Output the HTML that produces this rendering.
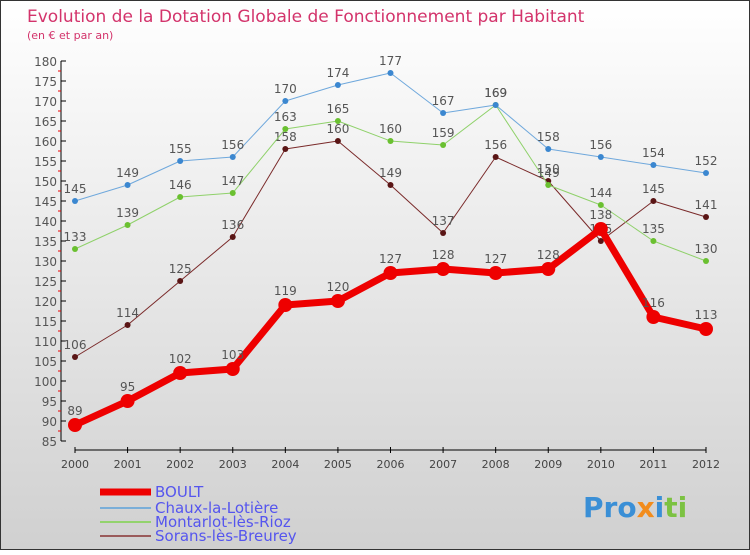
<!DOCTYPE html>
<html><head><meta charset="utf-8"><style>
body{margin:0}
svg text{font-family:"DejaVu Sans","Liberation Sans",sans-serif}
</style></head><body>
<svg width="750" height="550" xmlns="http://www.w3.org/2000/svg">
<defs><linearGradient id="bg" x1="0" y1="0" x2="0" y2="1"><stop offset="0" stop-color="#ffffff"/><stop offset="1" stop-color="#d0d0d0"/></linearGradient></defs>
<rect x="0.5" y="0.5" width="749" height="549" fill="url(#bg)" stroke="#333"/>
<text x="27" y="22" font-size="17" fill="#d3336b">Evolution de la Dotation Globale de Fonctionnement par Habitant</text>
<text x="27" y="39" font-size="11" fill="#d3336b">(en € et par an)</text>
<g id="axes"></g><g id="series"></g><g id="legend"></g>
<text x="583" y="517" font-size="28" font-weight="bold" fill="#3a8fd6">Pro<tspan fill="#f28c1c">x</tspan><tspan fill="#3a8fd6">i</tspan><tspan fill="#7cc242">ti</tspan></text>
</svg>
<script>
const years=[2000,2001,2002,2003,2004,2005,2006,2007,2008,2009,2010,2011,2012];
const boult=[89,95,102,103,119,120,127,128,127,128,138,116,113];
const chaux=[145,149,155,156,170,174,177,167,169,158,156,154,152];
const montarlot=[133,139,146,147,163,165,160,159,169,149,144,135,130];
const sorans=[106,114,125,136,158,160,149,137,156,150,135,145,141];
const yTicks=[85,90,95,100,105,110,115,120,125,130,135,140,145,150,155,160,165,170,175,180];
const NS="http://www.w3.org/2000/svg";
const X=i=>75+i*(706-75)/(years.length-1);
const Y=v=>61+(180-v)*4;
function mk(t,a,p){const e=document.createElementNS(NS,t);for(const k in a)e.setAttribute(k,a[k]);p.appendChild(e);return e;}
const ax=document.getElementById('axes');
mk('line',{x1:61,y1:61,x2:61,y2:441,stroke:'#000'},ax);
yTicks.forEach(v=>{
 mk('line',{x1:61,y1:Y(v),x2:66,y2:Y(v),stroke:'#000'},ax);
 if(v<180)mk('line',{x1:58,y1:Y(v+2.5),x2:61,y2:Y(v+2.5),stroke:'#e00'},ax);
 const t=mk('text',{x:57,y:Y(v)+5,'text-anchor':'end','font-size':12,fill:'#555'},ax);t.textContent=v;
 
 
});
mk('line',{x1:75,y1:450,x2:706,y2:450,stroke:'#000'},ax);
years.forEach((yr,i)=>{
 mk('line',{x1:X(i),y1:447,x2:X(i),y2:453,stroke:'#000'},ax);
 const t=mk('text',{x:X(i),y:468,'text-anchor':'middle','font-size':11,fill:'#444'},ax);t.textContent=yr;
 
 
});
const sg=document.getElementById('series');
const defs=[
 {n:'sorans',d:sorans,c:'#7a2a2a',dot:'#5a1515',w:1,r:3},
 {n:'montarlot',d:montarlot,c:'#8fd16a',dot:'#6ac030',w:1,r:3},
 {n:'chaux',d:chaux,c:'#6fa8dc',dot:'#3b87d0',w:1,r:3},
 {n:'boult',d:boult,c:'#ee0000',dot:'#ee0000',w:7,r:7}];
defs.forEach(s=>{
 const g=mk('g',{},sg);
 
 
 mk('polyline',{points:s.d.map((v,i)=>X(i)+','+Y(v)).join(' '),fill:'none',stroke:s.c,'stroke-width':s.w,'stroke-linejoin':'round'},g);
 s.d.forEach((v,i)=>{
  const c=mk('circle',{cx:X(i),cy:Y(v),r:s.r,fill:s.dot},g);
  
  
  const t=mk('text',{x:X(i),y:Y(v)-(s.w>1?10:8),'text-anchor':'middle','font-size':12,fill:'#555'},g);t.textContent=v;
  
  
 });
});
const lg=document.getElementById('legend');
const leg=[['BOULT','#ee0000',7,497],['Chaux-la-Lotière','#7aaed8',2,513],['Montarlot-lès-Rioz','#93d36d',2,527],['Sorans-lès-Breurey','#9a5a5a',2,541]];
leg.forEach(l=>{
 const g=mk('g',{},lg);
 
 
 mk('line',{x1:100,y1:l[3]-5,x2:151,y2:l[3]-5,stroke:l[1],'stroke-width':l[2]},g);
 const t=mk('text',{x:155,y:l[3],'font-size':15,fill:'#5555ee'},g);t.textContent=l[0];
});
</script>
</body></html>
